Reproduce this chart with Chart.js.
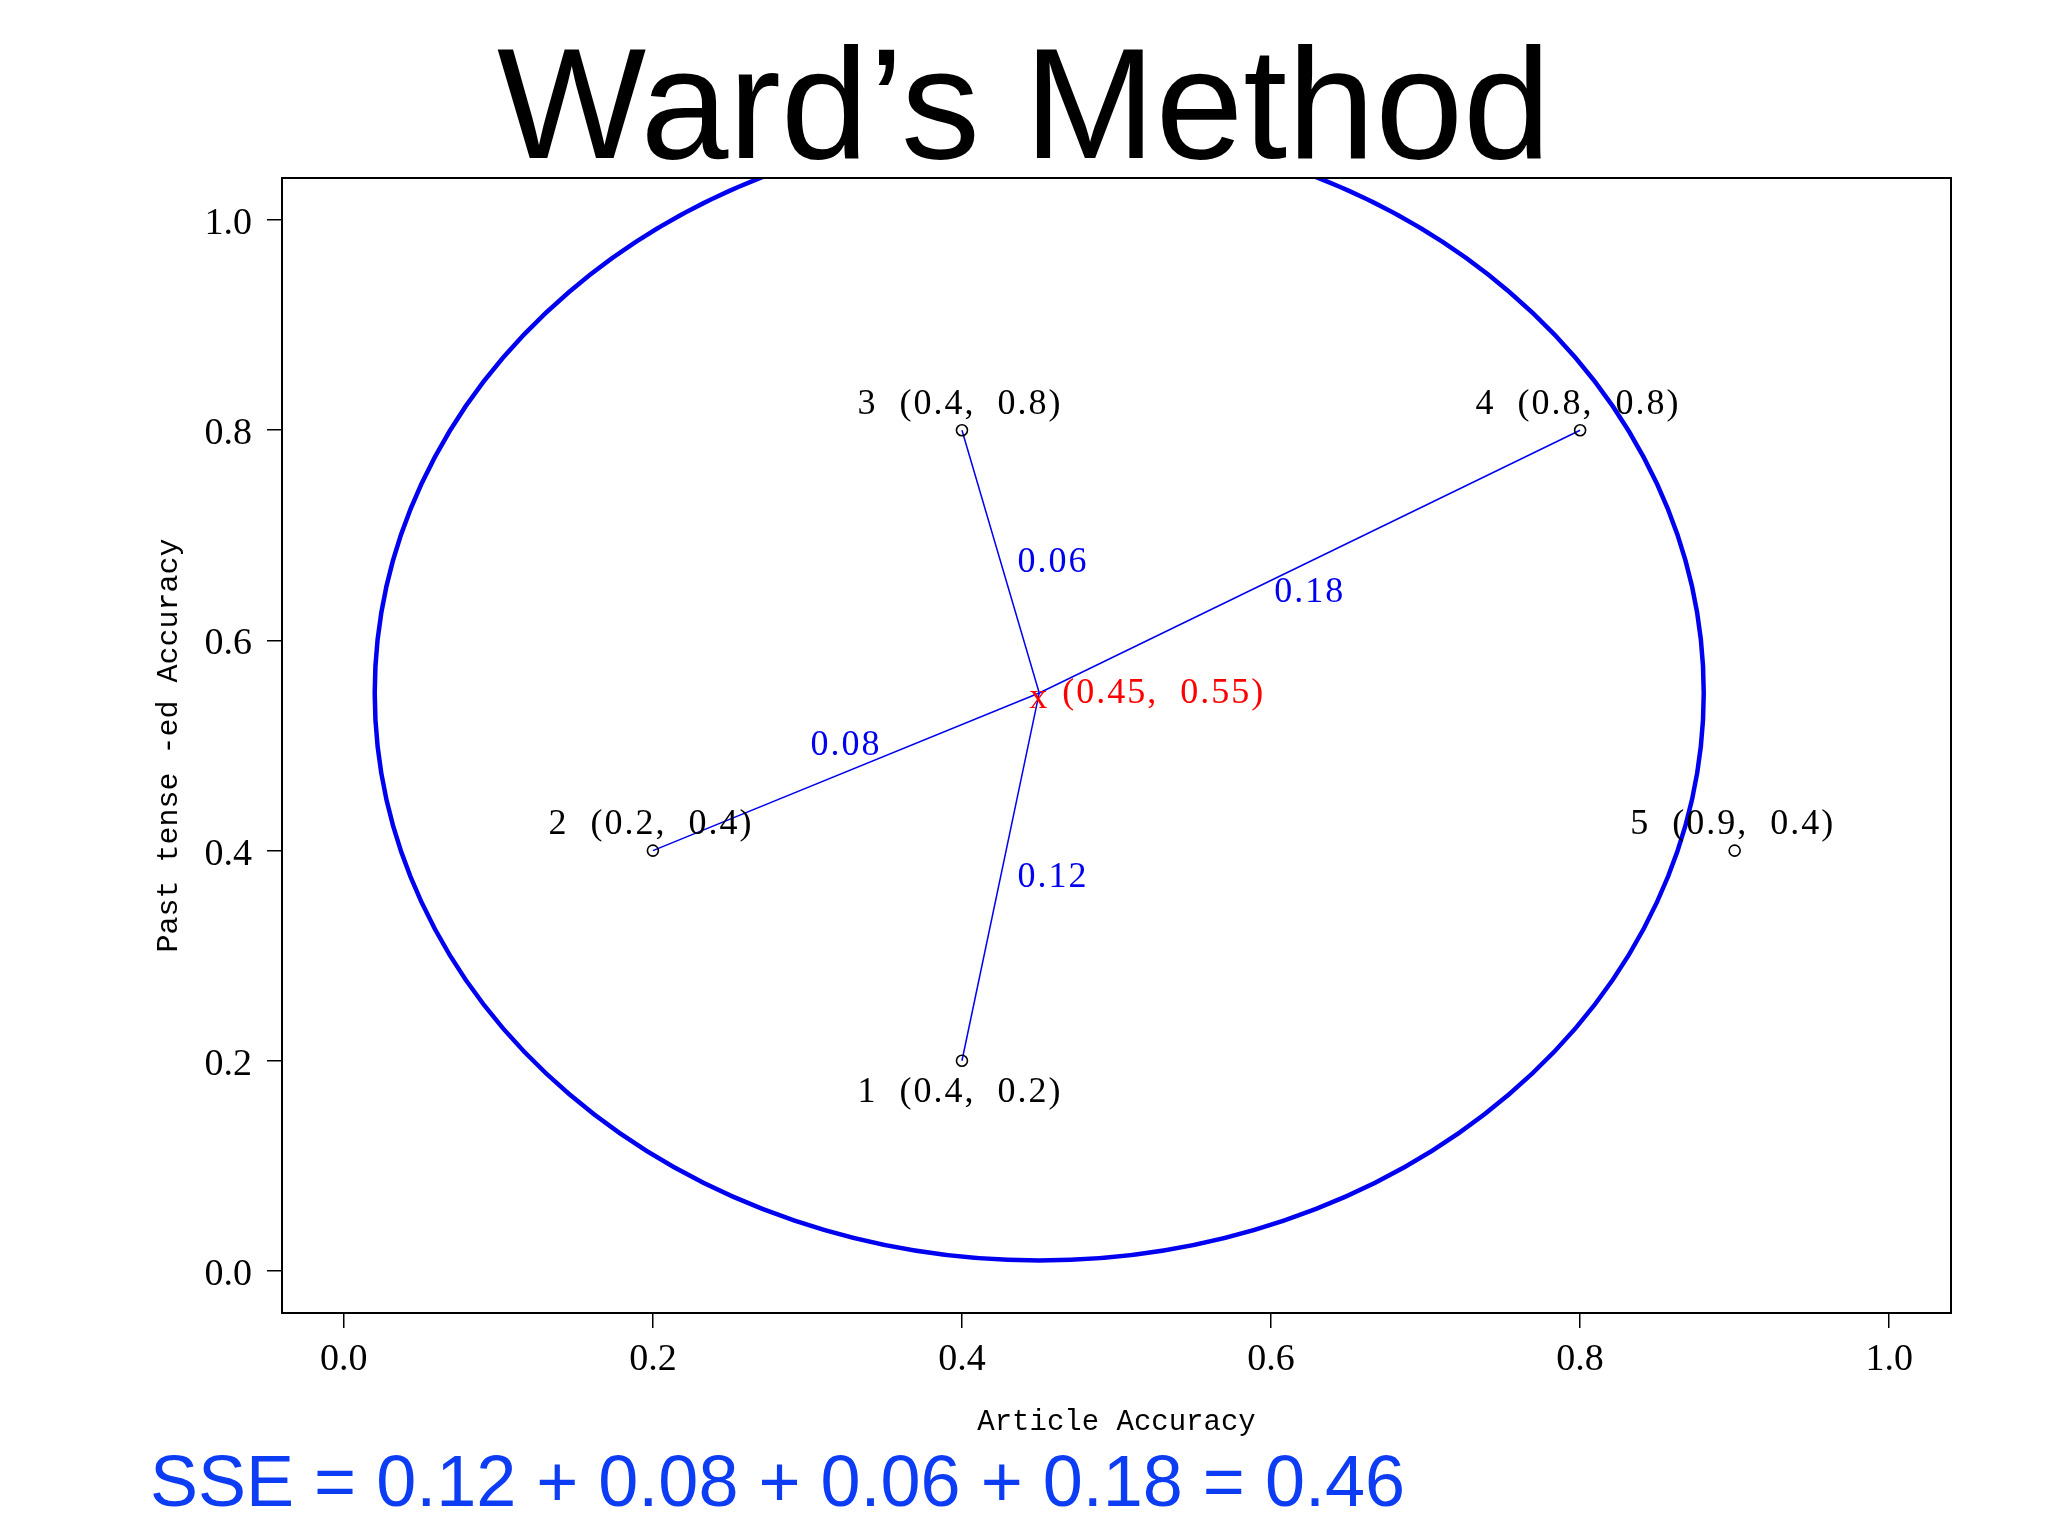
<!DOCTYPE html>
<html>
<head>
<meta charset="utf-8">
<title>Ward's Method</title>
<script src="https://cdn.jsdelivr.net/npm/chart.js@4.4.1/dist/chart.umd.min.js"></script>
<style>
  html, body { margin: 0; padding: 0; background: #ffffff; }
  #wrap { position: relative; width: 2048px; height: 1536px; overflow: hidden; }
  #sse {
    position: absolute; left: 150px; top: 1445px;
    font-family: 'Liberation Sans', Arial, sans-serif;
    font-size: 72px; line-height: 72px; color: #0c3cf4; white-space: pre;
  }
</style>
</head>
<body>
<div id="wrap">
  <canvas id="wardChart" width="2048" height="1536"></canvas>
  <div id="sse"></div>
</div>
<script>
// data points (article accuracy, past tense -ed accuracy)
const pointIds = ['1', '2', '3', '4', '5'];
const pointX = [0.4, 0.2, 0.4, 0.8, 0.9];
const pointY = [0.2, 0.4, 0.8, 0.8, 0.4];

// cluster centroid and the members joined to it
const centroidX = 0.45;
const centroidY = 0.55;
const clusterMembers = [0, 1, 2, 3];
const sseTerms = [0.12, 0.08, 0.06, 0.18];
const sseTotal = 0.46;

// cluster outline (data units)
const ellipseRadiusX = 0.43;
const ellipseRadiusY = 0.54;

const axisRange = [-0.04, 1.04];
const xTicks = [0.0, 0.2, 0.4, 0.6, 0.8, 1.0];
const yTicks = [0.0, 0.2, 0.4, 0.6, 0.8, 1.0];

const serif = "'Liberation Serif', 'DejaVu Serif', serif";
const mono = "'Liberation Mono', 'DejaVu Sans Mono', monospace";

document.getElementById('sse').textContent =
    'SSE = ' + sseTerms.map(v => v.toFixed(2)).join(' + ') + ' = ' + sseTotal.toFixed(2);

const boxPlugin = {
    id: 'boxPlugin',
    beforeDatasetsDraw(chart) {
        const { ctx, chartArea, scales } = chart;
        const cx = scales.x.getPixelForValue(centroidX);
        const cy = scales.y.getPixelForValue(centroidY);
        const rx = Math.abs(scales.x.getPixelForValue(centroidX + ellipseRadiusX) - cx);
        const ry = Math.abs(scales.y.getPixelForValue(centroidY + ellipseRadiusY) - cy);
        ctx.save();
        ctx.beginPath();
        ctx.rect(chartArea.left, chartArea.top, chartArea.right - chartArea.left, chartArea.bottom - chartArea.top);
        ctx.clip();
        ctx.beginPath();
        ctx.ellipse(cx, cy, rx, ry, 0, 0, Math.PI * 2);
        ctx.strokeStyle = '#0000f0';
        ctx.lineWidth = 4.5;
        ctx.stroke();
        ctx.restore();
    },
    afterDraw(chart) {
        const { ctx, chartArea } = chart;
        ctx.save();
        ctx.strokeStyle = '#000000';
        ctx.lineWidth = 2;
        ctx.strokeRect(chartArea.left, chartArea.top, chartArea.right - chartArea.left, chartArea.bottom - chartArea.top);
        ctx.restore();
    }
};

// where each text sits, R style: below / above / right of its anchor
const pointLabelSide = ['below', 'above', 'above', 'above', 'above'];
const termLabelSide = ['right', 'above', 'right', 'below'];

const labelPlugin = {
    id: 'labelPlugin',
    afterDatasetsDraw(chart) {
        const { ctx, scales } = chart;
        const px = v => scales.x.getPixelForValue(v);
        const py = v => scales.y.getPixelForValue(v);
        ctx.save();
        ctx.font = '36px ' + serif;
        ctx.textBaseline = 'middle';
        ctx.letterSpacing = '2px';

        ctx.fillStyle = '#000000';
        ctx.textAlign = 'center';
        pointIds.forEach((id, i) => {
            const text = id + '  (' + pointX[i].toFixed(1) + ',  ' + pointY[i].toFixed(1) + ')';
            const dy = pointLabelSide[i] === 'below' ? 32 : -26;
            ctx.fillText(text, px(pointX[i]) - 2, py(pointY[i]) + dy);
        });

        ctx.fillStyle = '#0000f0';
        clusterMembers.forEach((m, k) => {
            const mx = (px(pointX[m]) + px(centroidX)) / 2;
            const my = (py(pointY[m]) + py(centroidY)) / 2;
            const text = sseTerms[k].toFixed(2);
            const side = termLabelSide[k];
            if (side === 'right') {
                ctx.textAlign = 'left';
                ctx.fillText(text, mx + 17, my + 1);
            } else {
                ctx.textAlign = 'center';
                ctx.fillText(text, mx, my + (side === 'above' ? -26 : 31));
            }
        });

        ctx.fillStyle = '#ff0000';
        ctx.textAlign = 'center';
        ctx.fillText('x', px(centroidX), py(centroidY) + 6);
        ctx.textAlign = 'left';
        ctx.fillText('(' + centroidX.toFixed(2) + ',  ' + centroidY.toFixed(2) + ')', px(centroidX) + 23, py(centroidY) + 1);
        ctx.restore();
    }
};

const segmentSets = clusterMembers.map(m => ({
    type: 'scatter',
    showLine: true,
    data: [{ x: centroidX, y: centroidY }, { x: pointX[m], y: pointY[m] }],
    borderColor: '#0000f0',
    borderWidth: 1.5,
    pointRadius: 0,
    order: 2
}));

function axisOptions(ticks, title, titlePadding) {
    return {
        type: 'linear',
        min: axisRange[0],
        max: axisRange[1],
        afterBuildTicks: scale => { scale.ticks = ticks.map(v => ({ value: v })); },
        ticks: {
            color: '#000000',
            font: { family: serif, size: 38 },
            padding: 15,
            callback: v => Number(v).toFixed(1)
        },
        grid: {
            display: true,
            drawOnChartArea: false,
            drawTicks: true,
            tickLength: 15,
            color: '#000000',
            lineWidth: 1.5
        },
        border: { display: false },
        title: {
            display: true,
            text: title,
            color: '#000000',
            font: { family: mono, size: 29 },
            padding: titlePadding
        }
    };
}

const xAxis = axisOptions(xTicks, 'Article Accuracy', { top: 0, bottom: 5 });
xAxis.ticks.padding = 9;
xAxis.afterFit = scale => { scale.height = 132; };

const yAxis = axisOptions(yTicks, 'Past tense -ed Accuracy', { top: 151, bottom: 0 });
yAxis.title.font = { family: mono, size: 30 };
yAxis.ticks.labelOffset = 4;
yAxis.afterFit = scale => { scale.width = 282; };

// empty right-hand axis: keeps the plot box off the right edge while the title stays page-centred
const rightGap = {
    type: 'linear',
    position: 'right',
    display: true,
    min: axisRange[0],
    max: axisRange[1],
    ticks: { display: false },
    grid: { display: false },
    border: { display: false },
    afterFit: scale => { scale.width = 97; }
};

new Chart(document.getElementById('wardChart'), {
    type: 'scatter',
    data: {
        datasets: [
            {
                data: pointX.map((x, i) => ({ x: x, y: pointY[i] })),
                pointStyle: 'circle',
                pointRadius: 5.5,
                pointBorderWidth: 1.6,
                pointBorderColor: '#000000',
                pointBackgroundColor: 'rgba(0,0,0,0)',
                showLine: false,
                order: 1
            },
            ...segmentSets
        ]
    },
    options: {
        responsive: false,
        devicePixelRatio: 1,
        animation: false,
        layout: { padding: { top: 0, right: 0, bottom: 91, left: 0 } },
        scales: { x: xAxis, y: yAxis, yRight: rightGap },
        plugins: {
            legend: { display: false },
            tooltip: { enabled: false },
            title: {
                display: true,
                text: 'Ward\u2019s Method',
                color: '#000000',
                font: { family: "'Liberation Sans', Arial, sans-serif", size: 158, weight: 'normal', lineHeight: 0.8 },
                padding: { top: 51, bottom: 0.6 }
            }
        }
    },
    plugins: [boxPlugin, labelPlugin]
});
</script>
</body>
</html>
